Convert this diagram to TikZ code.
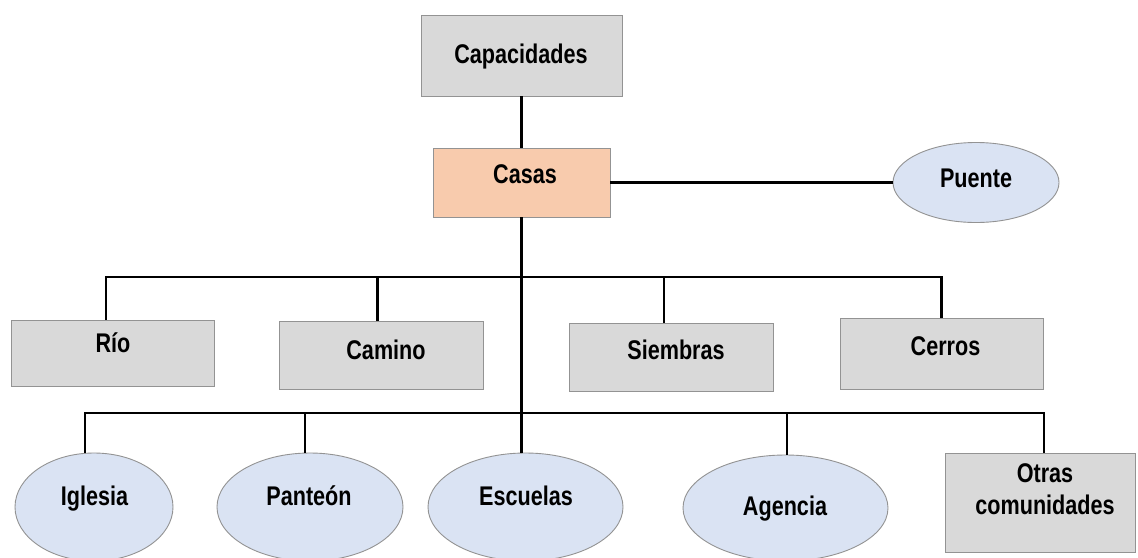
\documentclass[tikz,border=0pt]{standalone}
\usepackage{fontspec}
\setmainfont{Liberation Sans}[FakeStretch=0.8]
\usetikzlibrary{shapes.geometric}
\definecolor{boxgray}{HTML}{D9D9D9}
\definecolor{peach}{HTML}{F8CBAD}
\definecolor{ellblue}{HTML}{DAE3F3}
\definecolor{edgegray}{HTML}{939393}
\begin{document}
\begin{tikzpicture}[x=1pt,y=-1pt,
  gbox/.style={draw=edgegray, line width=0.9pt, fill=boxgray, rectangle, inner sep=0pt},
  pbox/.style={gbox, fill=peach},
  ell/.style={draw=edgegray, line width=0.9pt, fill=ellblue, ellipse, inner sep=0pt},
  txt/.style={font=\bfseries\fontsize{27}{32}\selectfont, inner sep=0pt, align=center},
  lbl/.style={txt, text height=19.3pt, text depth=0pt},
  conn/.style={draw=black, line width=2.9pt}]
\useasboundingbox (0,0) rectangle (1138,557);
\fill[white] (0,0) rectangle (1138,557);

% shapes
\node[gbox, minimum width=201pt, minimum height=81pt] (cap) at (521.5,55.5) {};
\node[pbox, minimum width=177pt, minimum height=69pt] (casas) at (521.5,182.5) {};
\node[ell, minimum width=166pt, minimum height=80pt] (puente) at (976,182.5) {};
\node[gbox, minimum width=203pt, minimum height=66pt] (rio) at (112.5,353) {};
\node[gbox, minimum width=204pt, minimum height=68pt] (camino) at (381,355) {};
\node[gbox, minimum width=204pt, minimum height=68pt] (siembras) at (671,357) {};
\node[gbox, minimum width=203pt, minimum height=71pt] (cerros) at (941.5,353.5) {};
\node[ell, minimum width=158pt, minimum height=108pt] (iglesia) at (94,507) {};
\node[ell, minimum width=186pt, minimum height=108pt] (panteon) at (310,507) {};
\node[ell, minimum width=195pt, minimum height=108pt] (escuelas) at (525.5,507) {};
\node[ell, minimum width=205pt, minimum height=106pt] (agencia) at (785.5,508) {};
\node[gbox, minimum width=190pt, minimum height=99pt] (otras) at (1040,502.5) {};

% texts
\node[lbl] (cap-t) at (521,53.5) {Capacidades};
\node[lbl] (casas-t) at (525,174) {Casas};
\node[lbl] (puente-t) at (976,178) {Puente};
\node[lbl] (rio-t) at (113,343) {Río};
\node[lbl] (camino-t) at (386,350) {Camino};
\node[lbl] (siembras-t) at (676,350) {Siembras};
\node[lbl] (cerros-t) at (945.5,346) {Cerros};
\node[lbl] (iglesia-t) at (94.5,496) {Iglesia};
\node[lbl] (panteon-t) at (309,496) {Panteón};
\node[lbl] (escuelas-t) at (526,496) {Escuelas};
\node[lbl] (agencia-t) at (785,506) {Agencia};
\node[txt] (otras-t) at (1045,489.5) {Otras\\comunidades};

% bus coordinates
\coordinate (ub1) at (106,277);
\coordinate (ub2) at (377.5,277);
\coordinate (ub3) at (664,277);
\coordinate (ub4) at (941.5,277);
\coordinate (lb1) at (85,413);
\coordinate (lb2) at (305,413);
\coordinate (lb4) at (787,413);
\coordinate (lb5) at (1044,413);

% connectors
\draw[conn] (cap.south) -- (casas.north);
\draw[conn] (casas.east) -- (casas.east -| puente.west);
\draw[conn] (casas.south) -- (casas.south |- escuelas.north);
\draw[conn] (ub1 |- rio.north) -- (ub1) -- (ub4) -- (ub4 |- cerros.north);
\draw[conn] (ub2) -- (ub2 |- camino.north);
\draw[conn] (ub3) -- (ub3 |- siembras.north);
\draw[conn] (lb1 |- iglesia.north) -- (lb1) -- (lb5) -- (lb5 |- otras.north);
\draw[conn] (lb2) -- (lb2 |- panteon.north);
\draw[conn] (lb4) -- (lb4 |- agencia.north);
\end{tikzpicture}
\end{document}
